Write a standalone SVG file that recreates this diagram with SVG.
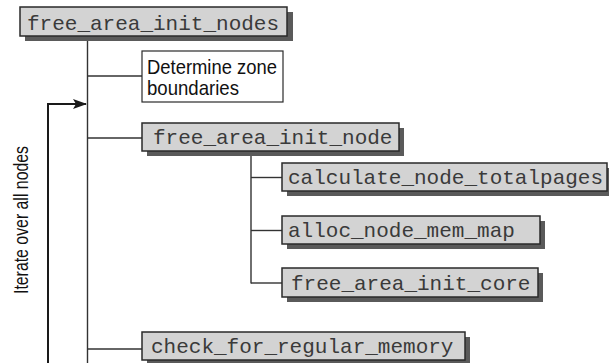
<svg xmlns="http://www.w3.org/2000/svg" width="609" height="363" viewBox="0 0 609 363">
<style>
.box{fill:#d3d3d3;stroke:#2a2a2a;stroke-width:1.5}
.shadow{fill:#5a5a5a}
.note{fill:#fff;stroke:#2a2a2a;stroke-width:1.2}
.mono{font-family:"Liberation Mono","Courier New",monospace;font-size:21px;fill:#3a3a3a}
.sans{font-family:"Liberation Sans",Arial,sans-serif;font-size:21px;fill:#111}
.conn{fill:none;stroke:#333;stroke-width:1.4}
.loop{fill:none;stroke:#1a1a1a;stroke-width:2}
</style>
<defs>
<marker id="arr" markerWidth="14" markerHeight="10" refX="13" refY="5" orient="auto" markerUnits="userSpaceOnUse">
<path d="M0,0 L14,5 L0,10 L3,5 Z" fill="#1a1a1a"/>
</marker>
</defs>
<rect width="609" height="363" fill="#fff"/>
<g id="connectors">
<path class="conn" d="M87.5,36 V363"/>
<path class="conn" d="M87.5,76 H142"/>
<path class="conn" d="M87.5,138 H142"/>
<path class="conn" d="M87.5,349 H142"/>
<path class="conn" d="M251,151 V283.5"/>
<path class="conn" d="M251,177.5 H282"/>
<path class="conn" d="M251,230.5 H282"/>
<path class="conn" d="M251,283 H282"/>
<path class="loop" d="M48,363 V104 H86" marker-end="url(#arr)"/>
</g>
<g id="label-iterate">
<text class="sans" transform="translate(28,220) rotate(-90)" text-anchor="middle" textLength="148" lengthAdjust="spacingAndGlyphs">Iterate over all nodes</text>
</g>
<g id="n-free_area_init_nodes">
<rect class="shadow" x="25" y="12" width="268" height="29"/>
<rect class="box" x="20" y="7" width="267" height="29"/>
<text class="mono" x="27" y="29.5">free_area_init_nodes</text>
</g>
<g id="n-determine">
<rect class="note" x="142" y="51" width="141" height="51"/>
<text class="sans" x="147" y="73.5" textLength="130" lengthAdjust="spacingAndGlyphs">Determine zone</text>
<text class="sans" x="147" y="94.5" textLength="92" lengthAdjust="spacingAndGlyphs">boundaries</text>
</g>
<g id="n-free_area_init_node">
<rect class="shadow" x="147" y="128" width="257" height="28"/>
<rect class="box" x="142" y="123" width="257" height="28"/>
<text class="mono" x="153" y="144">free_area_init_node</text>
</g>
<g id="n-calculate_node_totalpages">
<rect class="shadow" x="287" y="168" width="322" height="28"/>
<rect class="box" x="282" y="163" width="325" height="28"/>
<text class="mono" x="288" y="184">calculate_node_totalpages</text>
</g>
<g id="n-alloc_node_mem_map">
<rect class="shadow" x="287" y="221" width="258" height="28"/>
<rect class="box" x="282" y="216" width="258" height="28"/>
<text class="mono" x="288" y="237">alloc_node_mem_map</text>
</g>
<g id="n-free_area_init_core">
<rect class="shadow" x="287" y="273" width="256" height="29"/>
<rect class="box" x="282" y="268" width="256" height="29"/>
<text class="mono" x="291" y="290">free_area_init_core</text>
</g>
<g id="n-check_for_regular_memory">
<rect class="shadow" x="147" y="337" width="323" height="28"/>
<rect class="box" x="142" y="332" width="323" height="28"/>
<text class="mono" x="151" y="353">check_for_regular_memory</text>
</g>
</svg>
